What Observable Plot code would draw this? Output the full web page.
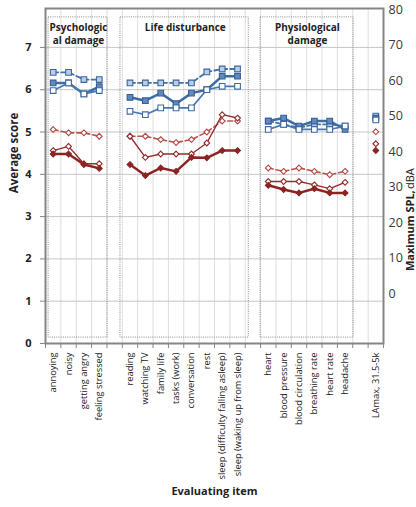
<!DOCTYPE html>
<html>
<head>
<meta charset="utf-8">
<script src="https://cdn.jsdelivr.net/npm/d3@7"></script>
<script src="https://cdn.jsdelivr.net/npm/@observablehq/plot@0.6"></script>
<style>
  body { margin: 0; background: #fff; }
  #chart svg { display: block; }
</style>
</head>
<body>
<div id="chart"></div>
<script>
// Evaluating items, by group
const psychItems = ["annoying", "noisy", "getting angry", "feeling stressed"];
const lifeItems = ["reading", "watching TV", "family life", "tasks (work)", "conversation", "rest",
  "sleep (difficulty falling asleep)", "sleep (waking up from sleep)"];
const physioItems = ["heart", "blood pressure", "blood circulation", "breathing rate", "heart rate", "headache"];
const lamaxLabel = "LAmax, 31.5-5k";
// group titles, one entry per printed line
const groupTitleLines = [["Psychologic", "al damage"], ["Life disturbance"], ["Physiological", "damage"]];

// Average scores for the 18 items (psychological, life disturbance, physiological)
const blueDashed = [6.41, 6.41, 6.24, 6.24,  6.16, 6.16, 6.16, 6.16, 6.16, 6.42, 6.49, 6.49,  5.26, 5.18, 5.10, 5.18, 5.18, 5.14];
const blueFilled = [6.16, 6.16, 5.90, 6.07,  5.82, 5.74, 5.92, 5.67, 5.92, 6.00, 6.32, 6.32,  5.26, 5.33, 5.14, 5.26, 5.26, 5.06];
const blueOpen   = [5.98, 6.16, 5.90, 5.98,  5.49, 5.41, 5.57, 5.57, 5.57, 6.00, 6.08, 6.08,  5.06, 5.18, 5.06, 5.06, 5.06, 5.14];
const redDashed  = [5.06, 4.98, 4.98, 4.90,  4.90, 4.90, 4.82, 4.75, 4.82, 5.00, 5.26, 5.26,  4.15, 4.07, 4.15, 4.07, 3.99, 4.07];
const redOpen    = [4.56, 4.66, 4.25, 4.25,  4.90, 4.40, 4.48, 4.48, 4.48, 4.74, 5.41, 5.33,  3.83, 3.83, 3.83, 3.75, 3.66, 3.81];
const redFilled  = [4.48, 4.48, 4.23, 4.14,  4.23, 3.97, 4.15, 4.07, 4.40, 4.39, 4.56, 4.56,  3.74, 3.64, 3.56, 3.66, 3.56, 3.56];

// Maximum SPL (dBA) per series: blueDashed, blueFilled, blueOpen, redDashed, redOpen, redFilled
const lamaxDBA = [50.0, 49.4, 48.9, 45.6, 42.2, 40.3];

// Axis ticks
const scoreTicks = [0, 1, 2, 3, 4, 5, 6, 7];
const splTicks = [0, 10, 20, 30, 40, 50, 60, 70, 80];

// ---- layout of the category slots ----
const groups = [
  {items: psychItems, start: 0},
  {items: lifeItems, start: 5},
  {items: physioItems, start: 14}
];
const lamaxSlot = 21;
const nSlots = 22;

// secondary (dBA) axis mapped onto the score scale
const toScore = dba => 1.182 + dba * 0.0839;
const fromScore = s => (s - 1.182) / 0.0839;

const series = [
  {values: redDashed, stroke: "#b9534f", width: 1.6, dash: "5,3", symbol: "diamond2", fill: "#fff", mstroke: "#b14a46", r: 2.6},
  {values: redOpen, stroke: "#932f2c", width: 1.4, dash: null, symbol: "diamond2", fill: "#fff", mstroke: "#8e2c2a", r: 2.6},
  {values: redFilled, stroke: "#8b2422", width: 2.5, dash: null, symbol: "diamond2", fill: "#8b2422", mstroke: "#8b2422", r: 2.6},
  {values: blueDashed, stroke: "#4472a8", width: 1.8, dash: "5,3", symbol: "square", fill: "#b9cde6", mstroke: "#3c669c", r: 3.2},
  {values: blueFilled, stroke: "#3e6ca6", width: 2.5, dash: null, symbol: "square", fill: "#6089c0", mstroke: "#365f94", r: 3.2},
  {values: blueOpen, stroke: "#4a78b0", width: 1.7, dash: null, symbol: "square", fill: "#fff", mstroke: "#3f6aa0", r: 3.2}
];
const lamaxOrder = [blueDashed, blueFilled, blueOpen, redDashed, redOpen, redFilled];

// one record per item and series
function recordsFor(values) {
  const out = [];
  let k = 0;
  groups.forEach((g, gi) => {
    g.items.forEach((item, j) => {
      out.push({group: gi, item, slot: g.start + j + 0.5, score: values[k++]});
    });
  });
  return out;
}

const labelAt = new Map();
groups.forEach(g => g.items.forEach((item, j) => labelAt.set(g.start + j + 0.5, item)));
labelAt.set(lamaxSlot + 0.5, lamaxLabel);
const itemSlots = [...labelAt.keys()];

// dotted frames around each group, with their titles
const boxes = [
  {x1: 0.2, x2: 4.04, y1: 0.14, y2: 7.71},
  {x1: 4.88, x2: 13.23, y1: 0.14, y2: 7.71},
  {x1: 14.0, x2: 20.05, y1: 0.14, y2: 7.71}
];
const titleCenters = [2.15, 9.1, 17.05];
const titleLineY = [7.47, 7.16];
const titleSpots = groupTitleLines.flatMap((lines, gi) =>
  lines.map((text, li) => ({text, x: titleCenters[gi], y: titleLineY[li]})));

const font = "'Open Sans', 'Noto Sans', sans-serif";

const marks = [
  Plot.gridX(d3.range(1, nSlots), {stroke: "#dedede", strokeOpacity: 1}),
  Plot.gridY(scoreTicks.slice(1), {stroke: "#c6c6c6", strokeOpacity: 1}),
  Plot.rect(boxes, {x1: "x1", x2: "x2", y1: "y1", y2: "y2", fill: "none", stroke: "#8a8a8a", strokeWidth: 1, strokeDasharray: "1,1.2"}),
  Plot.text(titleSpots, {x: "x", y: "y", text: "text", lineAnchor: "middle",
    fontWeight: "bold", fontSize: 10, fill: "#222"})
];

for (const s of series) {
  const recs = recordsFor(s.values);
  marks.push(Plot.line(recs, {x: "slot", y: "score", z: "group", stroke: s.stroke, strokeWidth: s.width,
    strokeDasharray: s.dash || undefined, curve: "linear"}));
}
for (const s of series) {
  const recs = recordsFor(s.values);
  marks.push(Plot.dot(recs, {x: "slot", y: "score", symbol: s.symbol, r: s.r, fill: s.fill, stroke: s.mstroke, strokeWidth: 1.1}));
  const li = lamaxOrder.indexOf(s.values);
  marks.push(Plot.dot([lamaxDBA[li]], {x: () => lamaxSlot + 0.5, y: d => toScore(d),
    symbol: s.symbol, r: s.r, fill: s.fill, stroke: s.mstroke, strokeWidth: 1.1}));
}

marks.push(
  Plot.frame({stroke: "#858585", strokeWidth: 2}),
  // left score axis
  Plot.axisY({ticks: scoreTicks, tickSize: 5, tickPadding: 9, stroke: "#858585",
    fontWeight: "bold", fontSize: 11, fill: "#222", label: null}),
  // right SPL axis
  Plot.axisY({anchor: "right", ticks: splTicks.map(toScore), tickFormat: d => String(Math.round(fromScore(d))),
    tickSize: 0, tickPadding: 5, fontSize: 12.5, fill: "#3a3a3a", label: null}),
  // slot boundary tick marks
  Plot.axisX({ticks: d3.range(0, nSlots + 1), tickSize: 5, tickFormat: () => "", stroke: "#858585", label: null}),
  // item names
  Plot.axisX({ticks: itemSlots, tickFormat: d => labelAt.get(d), tickRotate: -90, tickSize: 0, tickPadding: 9,
    fontSize: 9.3, fill: "#222", label: null}),
  // axis titles
  Plot.text(["Average score"], {frameAnchor: "left", dx: -31, dy: -23, rotate: -90, textAnchor: "middle",
    fontWeight: "bold", fontSize: 11.5, fill: "#222"}),
  Plot.text(["Maximum SPL,"], {frameAnchor: "right", dx: 27, dy: 95, rotate: -90, textAnchor: "start",
    fontWeight: "bold", fontSize: 11, fill: "#222"}),
  Plot.text(["dBA"], {frameAnchor: "right", dx: 27, dy: 13, rotate: -90, textAnchor: "start",
    fontSize: 11, fill: "#222"}),
  Plot.text(["Evaluating item"], {frameAnchor: "bottom", dy: 151, textAnchor: "middle",
    fontWeight: "bold", fontSize: 11, fill: "#222"})
);

const chart = Plot.plot({
  width: 416,
  height: 507,
  marginLeft: 45,
  marginRight: 33,
  marginTop: 8,
  marginBottom: 164,
  style: {fontFamily: font, background: "#fff", color: "#222"},
  x: {type: "linear", domain: [0, nSlots], axis: null},
  y: {domain: [0, 7.92], axis: null},
  marks
});
document.getElementById("chart").appendChild(chart);
</script>
</body>
</html>
